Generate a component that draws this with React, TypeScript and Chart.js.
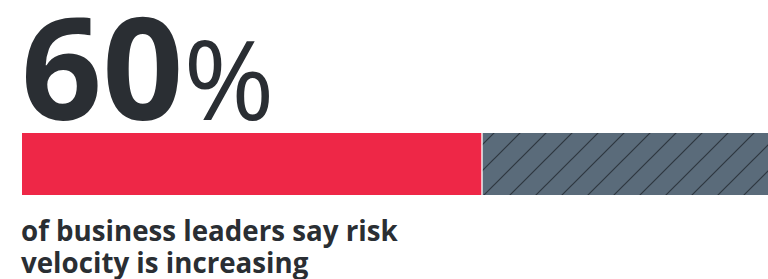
import React, { useEffect, useRef } from "react";
import { Chart, registerables } from "chart.js";

Chart.register(...registerables);

const categories = ["Business leaders"];
const increasingValues = [60];
const otherValues = [40];
const headlineNumber = "60";
const headlineUnit = "%";
const captionLines = ["of business leaders say risk", "velocity is increasing"];

const RED = "#EE2747";
const SLATE = "#5A6B7A";
const HATCH = "#2E3740";
const TEXT = "#2A2E33";

function makeHatch(): CanvasPattern | string {
  const s = 26;
  const c = document.createElement("canvas");
  c.width = s;
  c.height = s;
  const ctx = c.getContext("2d");
  if (!ctx) return SLATE;
  ctx.fillStyle = SLATE;
  ctx.fillRect(0, 0, s, s);
  ctx.strokeStyle = HATCH;
  ctx.lineWidth = 1.2;
  ctx.beginPath();
  ctx.moveTo(0, s);
  ctx.lineTo(s, 0);
  ctx.moveTo(-2, 2);
  ctx.lineTo(2, -2);
  ctx.moveTo(s - 2, s + 2);
  ctx.lineTo(s + 2, s - 2);
  ctx.stroke();
  const p = ctx.createPattern(c, "repeat");
  return p || SLATE;
}

export default function App() {
  const ref = useRef<HTMLCanvasElement | null>(null);

  useEffect(() => {
    if (!ref.current) return;
    const chart = new Chart(ref.current, {
      type: "bar",
      data: {
        labels: categories,
        datasets: [
          {
            data: increasingValues,
            backgroundColor: RED,
            borderWidth: 0,
          },
          {
            data: otherValues,
            backgroundColor: makeHatch() as any,
            borderColor: "#ffffff",
            borderWidth: { left: 2, right: 0, top: 0, bottom: 0 } as any,
            borderSkipped: false,
          },
        ],
      },
      options: {
        indexAxis: "y",
        animation: false,
        responsive: false,
        maintainAspectRatio: false,
        layout: { padding: { left: 22, right: 0, top: 0, bottom: 0 } },
        datasets: { bar: { barPercentage: 1, categoryPercentage: 1 } },
        scales: {
          x: { stacked: true, min: 0, max: 100, display: false },
          y: { stacked: true, display: false },
        },
        plugins: {
          legend: { display: false },
          tooltip: { enabled: false },
        },
      },
    });
    return () => chart.destroy();
  }, []);

  return (
    <div
      style={{
        position: "fixed",
        left: 0,
        top: 0,
        width: 768,
        height: 279,
        overflow: "hidden",
        background: "#ffffff",
        fontFamily: "'Open Sans', sans-serif",
        color: TEXT,
      }}
    >
      <div
        style={{
          position: "absolute",
          left: 21,
          top: -6,
          lineHeight: 1,
          whiteSpace: "nowrap",
        }}
      >
        <span style={{ fontSize: 142, fontWeight: 700 }}>{headlineNumber}</span>
        <span style={{ fontSize: 110, fontWeight: 400 }}>{headlineUnit}</span>
      </div>
      <canvas
        ref={ref}
        width={787}
        height={62}
        style={{ position: "absolute", left: 0, top: 133, width: 787, height: 62 }}
      />
      <div
        style={{
          position: "absolute",
          left: 21,
          top: 214,
          fontSize: 27.7,
          fontWeight: 700,
          lineHeight: "32px",
          whiteSpace: "nowrap",
        }}
      >
        {captionLines.map((l, i) => (
          <div key={i}>{l}</div>
        ))}
      </div>
    </div>
  );
}
